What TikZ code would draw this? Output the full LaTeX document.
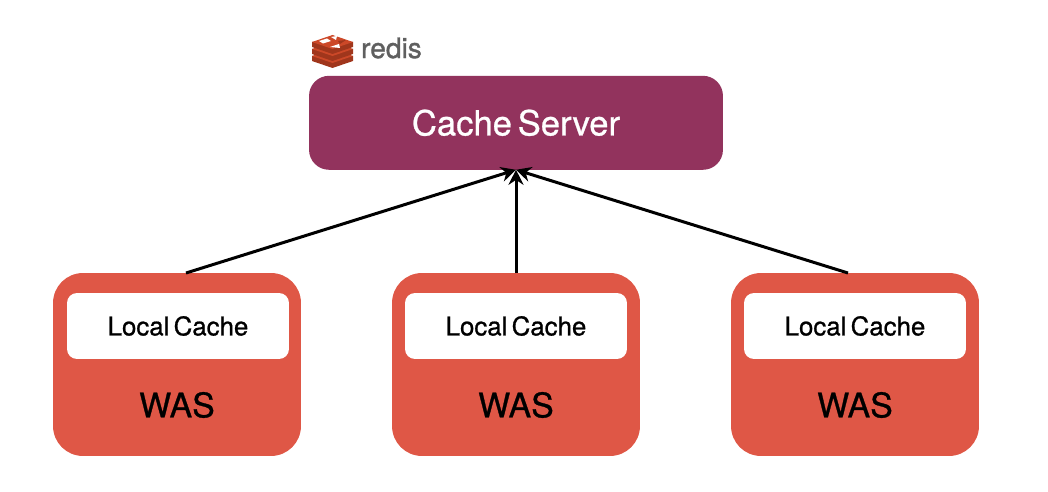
\documentclass[tikz,border=0pt]{standalone}
\usepackage{fontspec}
\setmainfont{TeX Gyre Heros}
\newfontfamily\labelfont[FakeBold=0.8,WordSpace=0.6]{TeX Gyre Heros}
\newfontfamily\logofont[FakeBold=1.2]{TeX Gyre Heros}
\usetikzlibrary{arrows.meta}
\definecolor{cacheserver}{RGB}{146,51,93}
\definecolor{wasbox}{RGB}{223,87,70}
\definecolor{redisdark}{RGB}{160,54,28}
\definecolor{redislight}{RGB}{204,72,40}
\definecolor{redisgrey}{RGB}{95,95,95}
\tikzset{
    wasnode/.style={fill=wasbox, rounded corners=0.6cm, minimum width=4.96cm, minimum height=3.66cm, outer sep=0pt},
    localnode/.style={fill=white, rounded corners=0.2cm, minimum width=4.44cm, minimum height=1.32cm, font=\labelfont\fontsize{14.7}{16}\selectfont},
    waslabel/.style={font=\labelfont\fontsize{19.3}{22}\selectfont},
    link/.style={draw=black, line width=0.06cm, -{Stealth[length=0.3cm,width=0.3cm]}}
}
\begin{document}
\begin{tikzpicture}[x=0.02cm, y=-0.02cm]
    \useasboundingbox (0,0) rectangle (1048,492);

    % Cache server
    \node[fill=cacheserver, rounded corners=0.4cm, minimum width=8.28cm, minimum height=1.88cm, outer sep=0pt, text=white, font=\labelfont\fontsize{19.7}{22}\selectfont] (cache) at (516,122.8) {Cache Server};

    % Redis logo
    \foreach \y in {56,49,42} {
        \fill[redisdark] (312,\y) -- (312,\y+5) -- (332.5,\y+12) -- (353,\y+5) -- (353,\y) -- cycle;
        \fill[redislight] (312,\y) -- (332.5,\y-7) -- (353,\y) -- (332.5,\y+7) -- cycle;
    }
    \fill[white] (319,41) -- (327,38.5) -- (331,41) -- (323,43.5) -- cycle;
    \fill[white] (330,47) -- (339,44) -- (340,48) -- cycle;
    \fill[white] (331,37) -- (337,36) -- (336,40) -- cycle;
    \fill[redisdark] (338,41) -- (346,40) -- (340,44) -- cycle;
    \node[text=redisgrey, font=\logofont\fontsize{16}{16}\selectfont] (redis) at (391.5,48) {redis};

    % WAS boxes
    \foreach \i/\x/\w in {1/177/178, 2/516/516, 3/855/855} {
        \node[wasnode] (was\i) at (\x,364.5) {};
        \node[localnode] (local\i) at (\w,326) {Local Cache};
        \node[waslabel] (name\i) at (\x,405) {WAS};
    }

    % Links
    \draw[link] ([xshift=0.18cm]was1.north) -- (cache.south);
    \draw[link] (was2.north) -- (cache.south);
    \draw[link] ([xshift=-0.14cm]was3.north) -- (cache.south);
\end{tikzpicture}
\end{document}
